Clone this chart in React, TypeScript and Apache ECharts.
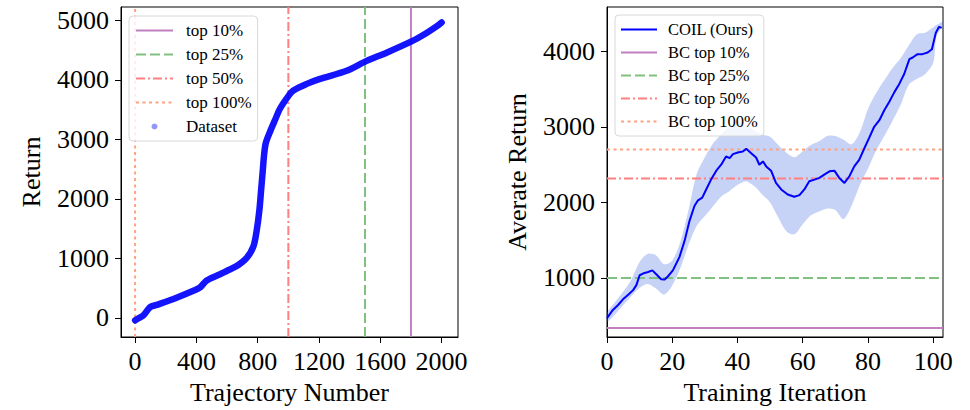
import { useEffect, useRef } from "react";
import * as echarts from "echarts";

// Left panel: sorted returns of the offline dataset
const trajIndex = [0, 20, 54, 98, 141, 250, 380, 424, 467, 554, 598, 663, 728, 772, 794, 811, 822, 833, 842, 853, 881, 913, 946, 1000, 1033, 1120, 1207, 1380, 1511, 1641, 1807, 1902, 1967, 2000];
const trajReturn = [-39, -10, 44, 182, 220, 320, 458, 513, 630, 735, 790, 872, 1010, 1203, 1480, 1811, 2142, 2473, 2748, 2942, 3135, 3328, 3521, 3730, 3824, 3935, 4018, 4155, 4321, 4459, 4652, 4790, 4900, 4967];
const cutLabels = ["top 10%", "top 25%", "top 50%", "top 100%"];
const cutIndex = [1800, 1500, 1000, 0];
const trajTicks = [0, 400, 800, 1200, 1600, 2000];
const returnTicks = [0, 1000, 2000, 3000, 4000, 5000];

// Right panel: COIL training curve, its spread, and BC baselines
const coilIter = [0, 1.8, 3.4, 4.9, 6.4, 8.0, 9.0, 10.0, 11.5, 12.6, 13.9, 15.1, 16.6, 17.7, 18.7, 20.2, 22.2, 23.8, 25.3, 26.8, 27.9, 29.2, 30.4, 31.9, 33.5, 35.0, 36.5, 37.6, 38.6, 40.1, 41.6, 42.7, 44.2, 45.7, 46.7, 47.8, 48.8, 50.3, 51.8, 53.4, 55.4, 57.4, 59.0, 60.5, 62.0, 63.6, 65.1, 66.6, 68.2, 69.7, 71.2, 72.8, 74.3, 75.8, 77.3, 78.9, 80.4, 81.9, 83.5, 85.0, 86.5, 88.1, 89.6, 91.1, 92.7, 93.7, 95.2, 96.7, 98.3, 99.6, 100.8, 101.8, 102.6];
const coilReturn = [467, 576, 641, 716, 773, 838, 904, 1035, 1066, 1079, 1100, 1048, 983, 978, 1022, 1100, 1275, 1494, 1756, 1953, 2028, 2063, 2172, 2303, 2421, 2500, 2609, 2587, 2640, 2662, 2675, 2710, 2653, 2596, 2500, 2544, 2478, 2421, 2259, 2172, 2106, 2076, 2097, 2172, 2281, 2303, 2325, 2369, 2412, 2421, 2325, 2259, 2347, 2478, 2565, 2718, 2858, 3003, 3090, 3221, 3331, 3462, 3571, 3702, 3899, 3921, 3965, 3965, 3987, 4030, 4249, 4327, 4314];
const bandIter = [0, 2.5, 5, 7.5, 10, 12.5, 15, 17.5, 20, 22.5, 25, 27.5, 30, 32.5, 35, 37.5, 40, 42.5, 45, 47.5, 50, 52.5, 55, 57.5, 60, 62.5, 65, 67.5, 70, 72.5, 75, 77.5, 80, 82.5, 85, 87.5, 90, 92.5, 95, 97.5, 100, 101, 102.9];
const bandHigh = [540, 680, 820, 980, 1210, 1320, 1300, 1180, 1230, 1480, 1900, 2380, 2600, 2780, 2900, 3010, 3070, 3020, 2960, 2900, 2870, 2760, 2660, 2600, 2680, 2760, 2810, 2880, 2880, 2830, 2770, 2930, 3240, 3450, 3620, 3780, 3910, 4080, 4230, 4250, 4320, 4350, 4390];
const bandLow = [420, 520, 640, 760, 870, 920, 860, 780, 900, 1130, 1440, 1690, 1820, 1950, 2080, 2150, 2230, 2280, 2220, 2110, 2000, 1800, 1620, 1580, 1710, 1830, 1880, 1920, 1900, 1780, 1960, 2230, 2450, 2690, 2880, 3080, 3290, 3560, 3640, 3700, 3850, 4200, 4340];
const bcLabels = ["BC top 10%", "BC top 25%", "BC top 50%", "BC top 100%"];
const bcReturn = [335, 1000, 2316, 2702];
const iterTicks = [0, 20, 40, 60, 80, 100];
const avgTicks = [1000, 2000, 3000, 4000];

const FONT = "'Liberation Serif', 'DejaVu Serif', serif";
const cutColors = ["#c080c0", "#80c080", "#ff8080", "#ffa282"];
const cutDash: any[] = ["solid", [10, 4], [9, 3, 2, 3], [3, 3.5]];

const LX = [-92, 2107];
const LY = [-320, 5227];
const RX = [0, 103];
const RY = [217, 4590];

function axisBase(ticks: number[], margin: number, extra: any) {
  return {
    type: "value",
    splitLine: { show: false },
    axisLine: { show: true, onZero: false, lineStyle: { color: "#000", width: 1 } },
    axisTick: { show: true, customValues: ticks, length: 6, lineStyle: { color: "#000", width: 1 } },
    axisLabel: {
      customValues: ticks,
      color: "#000",
      fontFamily: FONT,
      fontSize: 26,
      margin,
      formatter: (v: number) => String(v),
    },
    nameLocation: "middle",
    nameTextStyle: { color: "#000", fontFamily: FONT, fontSize: 26 },
    ...extra,
  };
}

export default function App() {
  const ref = useRef<HTMLDivElement>(null);

  useEffect(() => {
    if (!ref.current) return;
    const chart = echarts.init(ref.current, undefined, { renderer: "svg" });

    const legendCommon = {
      orient: "vertical",
      itemHeight: 6,
      backgroundColor: "rgba(255,255,255,0.8)",
      borderColor: "#d8d8d8",
      borderWidth: 1,
      borderRadius: 4,
      selectedMode: false,
      // hide the marker dot that line entries get by default; keep only the stroke
      itemStyle: { opacity: 0 },
    };

    const series: any[] = [];
    cutIndex.forEach((c, i) => {
      series.push({
        type: "line",
        name: cutLabels[i],
        xAxisIndex: 0,
        yAxisIndex: 0,
        data: [[c, LY[0]], [c, LY[1]]],
        symbol: "none",
        silent: true,
        lineStyle: { color: cutColors[i], width: 2, type: cutDash[i] },
        itemStyle: { color: cutColors[i] },
      });
    });
    series.push({
      type: "line",
      name: "Dataset",
      xAxisIndex: 0,
      yAxisIndex: 0,
      data: trajIndex.map((x, i) => [x, trajReturn[i]]),
      symbol: "none",
      smooth: 0.3,
      silent: true,
      z: 5,
      lineStyle: { color: "rgba(0,0,255,0.92)", width: 6.5, cap: "round" },
      itemStyle: { color: "rgba(0,0,255,0.5)" },
    });

    series.push({
      type: "custom",
      name: "band",
      xAxisIndex: 1,
      yAxisIndex: 1,
      silent: true,
      data: bandIter.map((x, i) => [x, bandLow[i], bandHigh[i]]),
      encode: { x: 0, y: [1, 2] },
      renderItem: (params: any, api: any) => {
        if (params.dataIndex !== 0) return null;
        const pts: number[][] = [];
        for (let i = 0; i < bandIter.length; i++) pts.push(api.coord([bandIter[i], bandHigh[i]]));
        for (let i = bandIter.length - 1; i >= 0; i--) pts.push(api.coord([bandIter[i], bandLow[i]]));
        return {
          type: "polygon",
          shape: { points: pts, smooth: 0.3 },
          style: { fill: "rgba(65,105,225,0.3)" },
        };
      },
      z: 1,
    });
    series.push({
      type: "line",
      name: "COIL (Ours)",
      xAxisIndex: 1,
      yAxisIndex: 1,
      data: coilIter.map((x, i) => [x, coilReturn[i]]),
      symbol: "none",
      silent: true,
      z: 4,
      lineStyle: { color: "#0000ff", width: 2 },
      itemStyle: { color: "#0000ff" },
    });
    bcReturn.forEach((v, i) => {
      series.push({
        type: "line",
        name: bcLabels[i],
        xAxisIndex: 1,
        yAxisIndex: 1,
        data: [[RX[0], v], [RX[1], v]],
        symbol: "none",
        silent: true,
        z: 3,
        lineStyle: { color: cutColors[i], width: 2, type: cutDash[i] },
        itemStyle: { color: cutColors[i] },
      });
    });

    chart.setOption({
      animation: false,
      backgroundColor: "#fff",
      grid: [
        { left: 121, top: 7, width: 337, height: 335, show: true, borderColor: "#000", borderWidth: 1, backgroundColor: "transparent" },
        { left: 607, top: 7, width: 336, height: 334, show: true, borderColor: "#000", borderWidth: 1, backgroundColor: "transparent" },
      ],
      xAxis: [
        axisBase(trajTicks, 11, { gridIndex: 0, min: LX[0], max: LX[1], name: "Trajectory Number", nameGap: 42 }),
        axisBase(iterTicks, 11, { gridIndex: 1, min: RX[0], max: RX[1], name: "Training Iteration", nameGap: 42 }),
      ],
      yAxis: [
        axisBase(returnTicks, 12, { gridIndex: 0, min: LY[0], max: LY[1], name: "Return", nameGap: 77 }),
        axisBase(avgTicks, 12, { gridIndex: 1, min: RY[0], max: RY[1], name: "Averate Return", nameGap: 77 }),
      ],
      legend: [
        {
          ...legendCommon,
          left: 129,
          top: 16,
          padding: [6, 6, 6, 6],
          itemWidth: 37,
          itemGap: 7,
          textStyle: { fontFamily: FONT, fontSize: 17, color: "#000", lineHeight: 17, padding: [0, 0, 0, 8] },
          data: [
            ...cutLabels.map((n) => ({ name: n })),
            { name: "Dataset", icon: "circle", itemStyle: { color: "rgba(60,60,255,0.55)", opacity: 1 } },
          ],
        },
        {
          ...legendCommon,
          left: 615,
          top: 15,
          padding: [6, 6, 6, 5],
          itemWidth: 36,
          itemGap: 6,
          textStyle: { fontFamily: FONT, fontSize: 16.5, color: "#000", lineHeight: 17, padding: [0, 0, 0, 6] },
          data: ["COIL (Ours)", ...bcLabels],
        },
      ],
      series,
    });

    return () => chart.dispose();
  }, []);

  return <div ref={ref} style={{ position: "absolute", left: 0, top: 0, width: 970, height: 410 }} />;
}
